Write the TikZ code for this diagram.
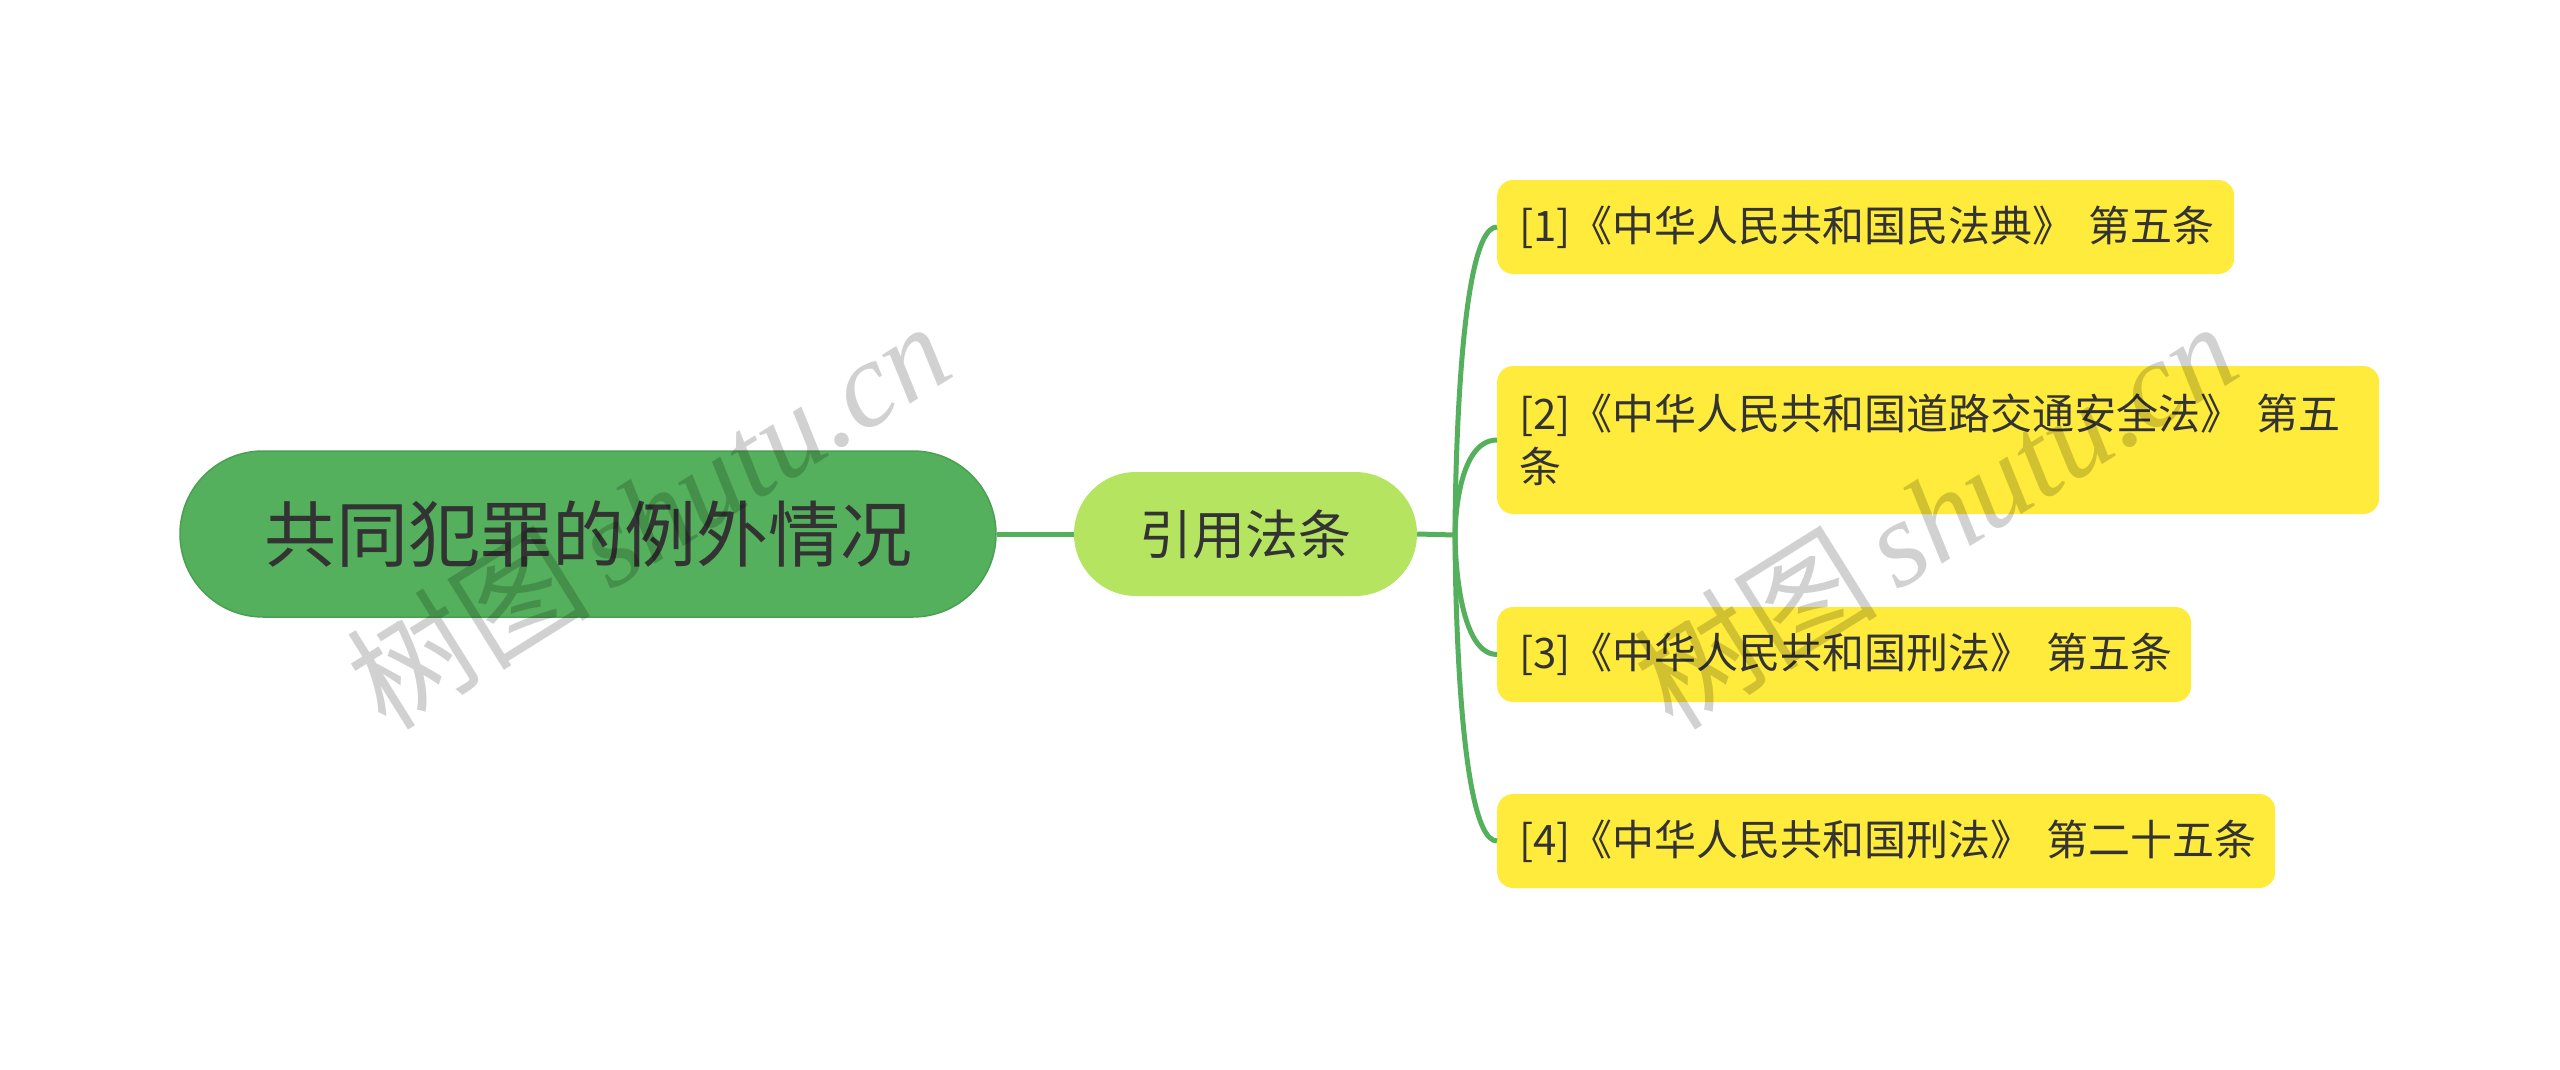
\documentclass[tikz,border=0pt]{standalone}
\usepackage{fontspec}
\setmainfont{Noto Sans CJK SC}
\newfontfamily\wmserif{Liberation Serif}
\newfontfamily\wmcjk{Noto Sans CJK SC}
\definecolor{rootfill}{RGB}{84,176,92}
\definecolor{rootdraw}{RGB}{74,160,82}
\definecolor{lawfill}{RGB}{180,228,96}
\definecolor{leaffill}{RGB}{255,235,59}
\definecolor{linkcol}{RGB}{84,176,92}
\definecolor{txt}{RGB}{51,51,51}
\tikzset{
  rootbox/.style={draw=rootdraw, line width=1.5pt, fill=rootfill, rounded corners=83pt, minimum width=816pt, minimum height=166pt, inner sep=0pt, text=txt, font=\fontsize{72}{86}\selectfont},
  lawbox/.style={fill=lawfill, rounded corners=62pt, minimum width=343pt, minimum height=124pt, inner sep=0pt, text=txt, font=\fontsize{53}{64}\selectfont},
  leafbox/.style={fill=leaffill, rounded corners=16pt, anchor=west, inner xsep=22pt, inner ysep=0pt, align=left, text=txt, font=\fontsize{42}{53}\selectfont},
  conn/.style={draw=linkcol, line width=5pt},
  wm/.style={text=black, opacity=0.18, rotate=32, font=\fontsize{122}{130}\selectfont}
}
\begin{document}
\begin{tikzpicture}[x=1pt,y=-1pt]
\useasboundingbox (0,0) rectangle (2560,1070);
\fill[white] (0,0) rectangle (2560,1070);
\node[rootbox] (root) at (588,534) {共同犯罪的例外情况};
\node[lawbox] (law) at (1245.5,534) {引用法条};
\node[leafbox, text width=693pt, minimum height=94pt] (c1) at (1497,227) {[1]《中华人民共和国民法典》~第五条};
\node[leafbox, text width=838pt, minimum height=148pt] (c2) at (1497,440) {[2]《中华人民共和国道路交通安全法》~第五\\条};
\node[leafbox, text width=650pt, minimum height=95pt] (c3) at (1497,654.5) {[3]《中华人民共和国刑法》~第五条};
\node[leafbox, text width=734pt, minimum height=94pt] (c4) at (1497,841) {[4]《中华人民共和国刑法》~第二十五条};
\coordinate (j) at (1455,535);
\draw[conn] (root.east) -- (law.west);
\draw[conn] (law.east) -- (j);
\foreach \c in {c1,c2,c3,c4}{
  \draw[conn] (j) .. controls (j) and (j |- \c.west) .. (\c.west);
}
\node[wm] (wm1) at (648,514) {\wmcjk 树图\,\wmserif\itshape shutu.cn};
\node[wm] (wm2) at (1935,514) {\wmcjk 树图\,\wmserif\itshape shutu.cn};
\end{tikzpicture}
\end{document}
